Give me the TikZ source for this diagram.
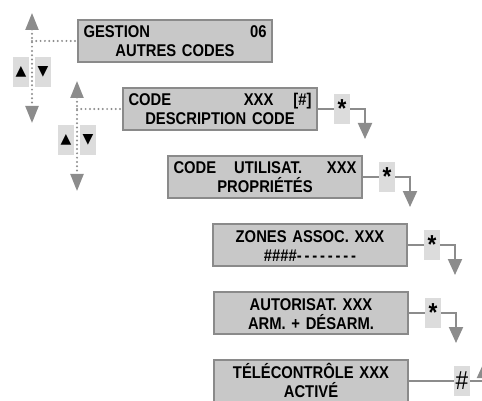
\documentclass[tikz,border=0pt]{standalone}
\usepackage{fontspec}
\setmainfont{Liberation Sans}[FakeStretch=0.87]
\newfontfamily\symfont{DejaVu Sans}
\usetikzlibrary{arrows.meta, positioning}
\definecolor{boxfill}{RGB}{200,200,200}
\definecolor{boxline}{RGB}{138,138,138}
\definecolor{keyfill}{RGB}{220,220,220}
\definecolor{wiregray}{RGB}{140,140,140}
\tikzset{
  screen/.style={draw=boxline, fill=boxfill, line width=2pt, anchor=north west,
    minimum width=194pt, minimum height=42pt, text width=183pt, inner xsep=5pt,
    inner ysep=0pt, text height=12pt, text depth=18pt, align=center,
    font=\bfseries\fontsize{17}{19}\selectfont},
  keybox/.style={fill=keyfill, minimum width=16pt, minimum height=30pt, inner sep=0pt, outer sep=0pt},
  wire/.style={draw=wiregray, line width=2pt},
  dots/.style={draw=wiregray, line width=2.2pt, line cap=round, dash pattern=on 0pt off 4.3pt},
  wirehead/.style={-{Triangle[width=14pt, length=16pt]}},
  navhead/.style={{Triangle[width=13pt, length=17pt]}-{Triangle[width=13pt, length=17pt]}}
}
\begin{document}
\begin{tikzpicture}[x=1pt, y=-1pt]
    \useasboundingbox (0,0) rectangle (482,401);
    % screens
    \node[screen] (s1) at (77,19) {GESTION\hfill 06\\AUTRES CODES};
    \node[screen] (s2) at (122,87) {CODE\hfill XXX\hspace{20pt}[\#]\\DESCRIPTION CODE};
    \node[screen] (s3) at (167,155) {CODE\hspace{18pt}UTILISAT.\hfill XXX\\PROPRIÉTÉS};
    \node[screen] (s4) at (212,223) {ZONES ASSOC. XXX\\\#\#\#\#{-}\,{-}\,{-}\,{-}\,{-}\,{-}\,{-}\,{-}};
    \node[screen] (s5) at (213,291) {AUTORISAT. XXX\\ARM. + DÉSARM.};
    \node[screen] (s6) at (213,359) {TÉLÉCONTRÔLE XXX\\ACTIVÉ};

    % up/down keys
    \foreach \n/\dx/\dy in {1/0/0, 2/45/68} {
      \begin{scope}[shift={(\dx,\dy)}]
        \coordinate (u\n) at (32,13);
        \coordinate (d\n) at (32,123);
        \coordinate (j\n) at (32,41);
        \node[keybox, font=\symfont\fontsize{14}{14}\selectfont] (ku\n) at (21,72) {▲};
        \node[keybox, font=\symfont\fontsize{14}{14}\selectfont] (kd\n) at (43,72) {▼};
        \draw[dots, navhead] (u\n) -- (d\n);
        \draw[dots] (j\n) -- (s\n);
      \end{scope}
    }

    % star keys
    \foreach \n in {2,...,5} {
      \node[keybox, right=16pt of s\n, font=\bfseries\fontsize{26}{26}\selectfont] (a\n) {*};
      \coordinate[right=15pt of a\n] (c\n);
      \coordinate[below=30pt of c\n] (t\n);
      \draw[wire] (s\n) -- (a\n);
      \draw[wire, wirehead] (a\n) -- (c\n) -- (t\n);
    }

    % hash key
    \node[keybox, right=45pt of s6, font=\fontsize{26}{26}\selectfont] (h6) {\#};
    \coordinate[right=14pt of h6] (r6);
    \coordinate[above=19pt of r6] (q6);
    \draw[wire] (s6) -- (h6);
    \draw[wire, wirehead] (h6) -- (r6) -- (q6);
\end{tikzpicture}
\end{document}
